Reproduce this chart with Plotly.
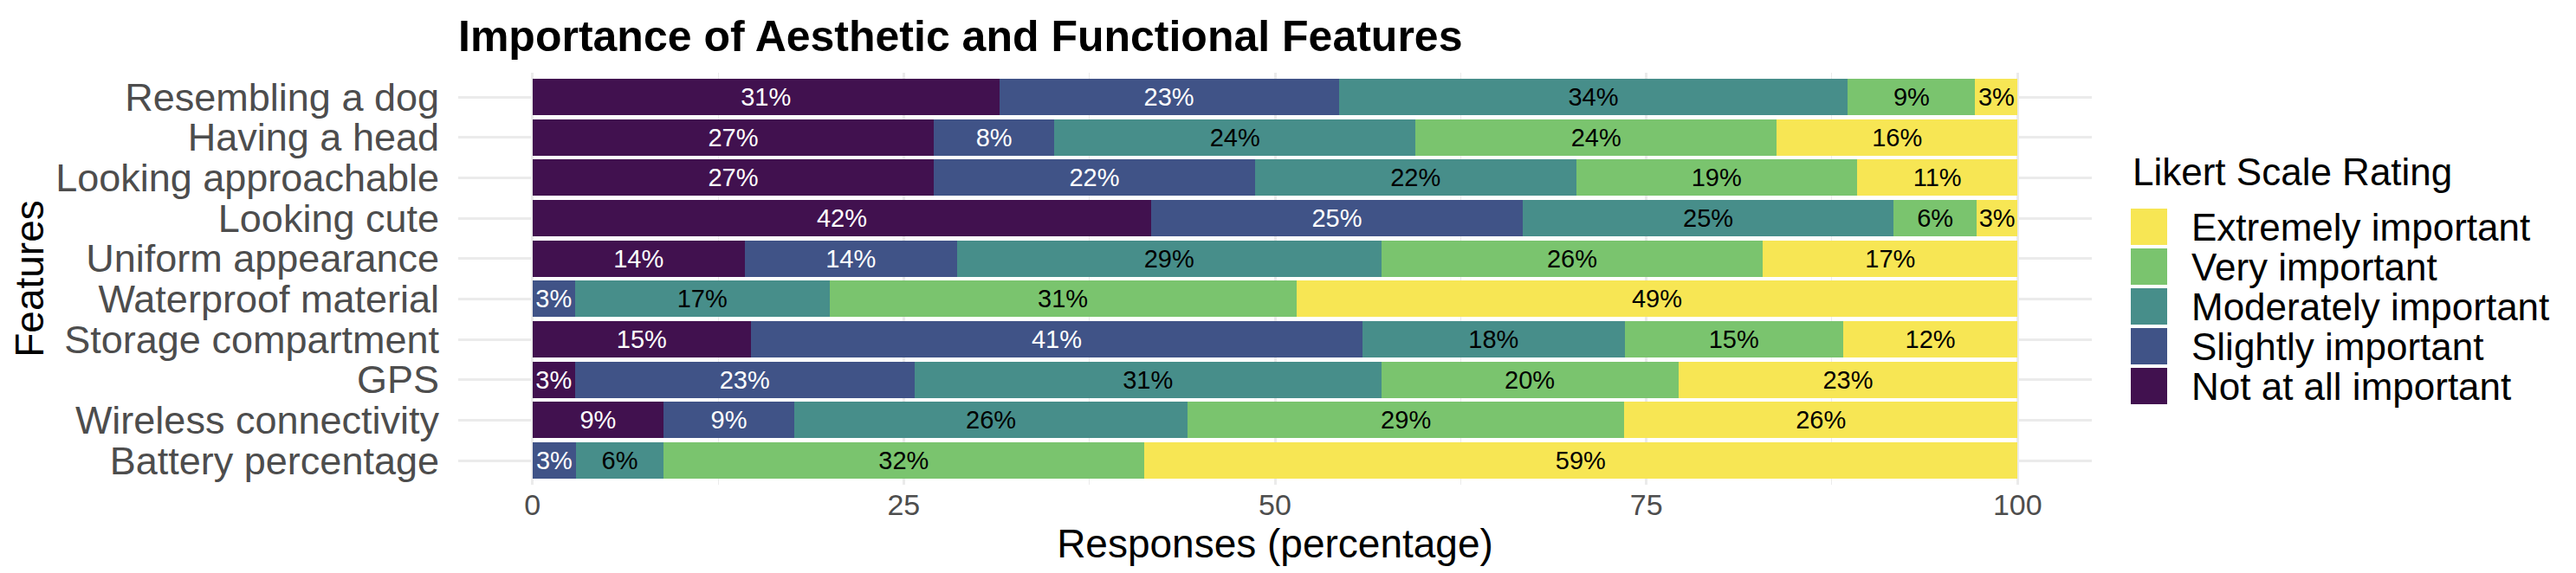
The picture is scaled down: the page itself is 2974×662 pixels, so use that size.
import plotly.graph_objects as go

# ---------------- data ----------------
features = [
    "Resembling a dog", "Having a head", "Looking approachable", "Looking cute",
    "Uniform appearance", "Waterproof material", "Storage compartment", "GPS",
    "Wireless connectivity", "Battery percentage",
]
ratings = ["Not at all important", "Slightly important", "Moderately important",
           "Very important", "Extremely important"]

not_at_all = [31.43, 27.03, 27.03, 41.67, 14.29, 0.00, 14.71, 2.86, 8.82, 0.00]
slightly   = [22.86, 8.11, 21.62, 25.00, 14.29, 2.86, 41.18, 22.86, 8.82, 2.94]
moderately = [34.29, 24.32, 21.62, 25.00, 28.57, 17.14, 17.65, 31.43, 26.47, 5.88]
very       = [8.57, 24.32, 18.92, 5.56, 25.71, 31.43, 14.71, 20.00, 29.41, 32.35]
extremely  = [2.86, 16.22, 10.81, 2.78, 17.14, 48.57, 11.76, 22.86, 26.47, 58.82]

x_ticks = [0, 25, 50, 75, 100]

# ---------------- style ----------------
colors = ["#41114F", "#405387", "#478E8A", "#7AC46E", "#F7E654"]
text_colors = ["white", "white", "black", "black", "black"]
FONT = "Liberation Sans, Arial, sans-serif"

W, H = 2974, 662
L, R, T, B = 521, 2407, 76, 552   # plot area in pixels


def px_x(px):
    return (px - L) / (R - L)


def px_y(py):
    return 1 - (py - T) / (B - T)


series = [not_at_all, slightly, moderately, very, extremely]

fig = go.Figure()
for name, vals, col, tcol in zip(ratings, series, colors, text_colors):
    fig.add_trace(go.Bar(
        y=features, x=vals, orientation="h", name=name,
        marker=dict(color=col, line=dict(width=0)),
        text=[f"{round(v)}%" if v > 0 else "" for v in vals],
        textposition="inside", insidetextanchor="middle", textangle=0,
        textfont=dict(family=FONT, size=29, color=tcol),
        showlegend=False,
    ))

fig.update_layout(
    width=W, height=H,
    margin=dict(l=L, r=W - R, t=T, b=H - B, pad=0),
    paper_bgcolor="white", plot_bgcolor="white",
    barmode="stack", bargap=0.1,
    font=dict(family=FONT),
    uniformtext=dict(minsize=29, mode="show"),
    title=dict(
        text="Importance of Aesthetic and Functional Features",
        font=dict(family=FONT, size=50, color="black", weight="bold"),
        x=0, xref="paper", xanchor="left",
        y=1 - 33 / H, yref="container", yanchor="middle",
    ),
    xaxis=dict(
        range=[-5, 105], tickvals=x_ticks,
        showgrid=True, gridcolor="#EBEBEB", gridwidth=2.5,
        zeroline=False, showline=False, ticks="",
        tickfont=dict(family=FONT, size=34, color="#4D4D4D"),
        minor=dict(tickvals=[12.5, 37.5, 62.5, 87.5], showgrid=True,
                   gridcolor="#EBEBEB", gridwidth=1.3, ticks=""),
        title=dict(text="Responses (percentage)", standoff=4,
                   font=dict(family=FONT, size=46, color="black")),
    ),
    yaxis=dict(
        categoryorder="array", categoryarray=features,
        range=[len(features) - 0.4, -0.6],
        tickmode="linear", tick0=0, dtick=1,
        showgrid=True, gridcolor="#EBEBEB", gridwidth=2.5,
        zeroline=False, showline=False, ticks="",
        ticklabelstandoff=21,
        tickfont=dict(family=FONT, size=45, color="#4D4D4D"),
        title=dict(text="Features", standoff=2,
                   font=dict(family=FONT, size=46, color="black")),
    ),
)

# ---------------- manual legend (ggplot-style) ----------------
fig.add_annotation(
    text="Likert Scale Rating", xref="paper", yref="paper",
    x=px_x(2452), y=px_y(190), xanchor="left", yanchor="middle",
    showarrow=False, font=dict(family=FONT, size=44, color="black"),
)
for i, (name, col) in enumerate(zip(reversed(ratings), reversed(colors))):
    top = 233 + 46 * i
    fig.add_shape(
        type="rect", xref="paper", yref="paper",
        x0=px_x(2452), x1=px_x(2494), y0=px_y(top + 42), y1=px_y(top),
        fillcolor=col, line=dict(width=0),
    )
    fig.add_annotation(
        text=name, xref="paper", yref="paper",
        x=px_x(2520), y=px_y(top + 21), xanchor="left", yanchor="middle",
        showarrow=False, font=dict(family=FONT, size=44, color="black"),
    )

fig.write_html("out.html")
